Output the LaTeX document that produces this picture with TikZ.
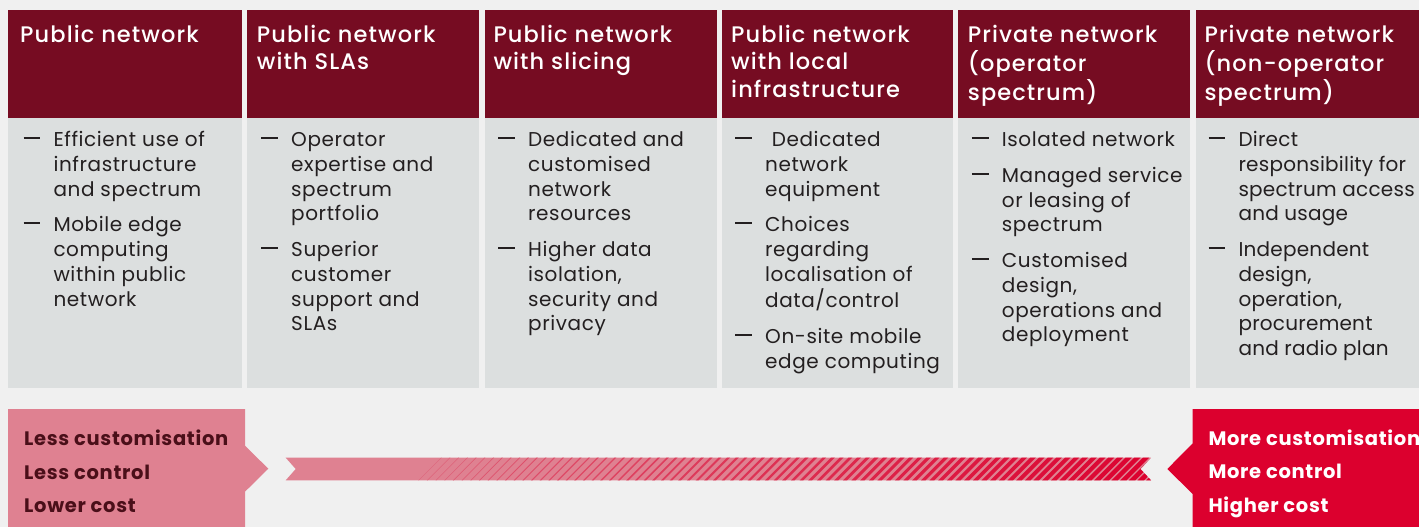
\documentclass[tikz,border=0pt]{standalone}
\usepackage{fontspec}
\setmainfont{Poppins}[LetterSpace=3.0]
\newfontfamily\hfont{Poppins Medium}[LetterSpace=4.9]
\newfontfamily\bofont{Poppins Bold}[LetterSpace=3.5]
\newfontfamily\narrowfont{Poppins}[LetterSpace=1.2]
\definecolor{bgc}{HTML}{F0F0F0}
\definecolor{hdrc}{HTML}{760C22}
\definecolor{bodyc}{HTML}{DCDFDF}
\definecolor{pinkc}{HTML}{DF8191}
\definecolor{redc}{HTML}{DC002E}
\definecolor{darkc}{HTML}{4A0F19}
\definecolor{txtc}{HTML}{231F20}
\newcommand\bdash{\rule[7.5pt]{16.7pt}{2pt}}
\begin{document}
\begin{tikzpicture}[x=1pt,y=-1pt,
  htxt/.style={anchor=north west,inner sep=0pt,text=white,font=\hfont\fontsize{22.5}{27.3}\selectfont},
  btxt/.style={anchor=north west,inner sep=0pt,text=txtc,font=\fontsize{20}{24.7}\selectfont},
  ftxt/.style={anchor=north west,inner sep=0pt,font=\bofont\fontsize{19.5}{33.5}\selectfont}]
\useasboundingbox (0,0) rectangle (1419,527);
\fill[bgc] (0,0) rectangle (1419,527);
% columns
\foreach \l/\r in {8/242,247.3/479.3,485/716.7,721.7/953.3,958.3/1190,1195.7/1425}{
  \fill[hdrc] (\l,10) rectangle (\r,117.5);
  \fill[bodyc] (\l,117.5) rectangle (\r,388);
}
% header texts
\node[htxt] (ht1) at (20,23.2) {\begin{tabular}{@{}l@{}}Public network\end{tabular}};
\node[htxt] (ht2) at (256.7,23.2) {\begin{tabular}{@{}l@{}}Public network\\with SLAs\end{tabular}};
\node[htxt] (ht3) at (493.3,23.2) {\begin{tabular}{@{}l@{}}Public network\\with slicing\end{tabular}};
\node[htxt] (ht4) at (731,23.2) {\begin{tabular}{@{}l@{}}Public network\\with local\\infrastructure\end{tabular}};
\node[htxt] (ht5) at (967.7,23.2) {\begin{tabular}{@{}l@{}}Private network\\(operator\\spectrum)\end{tabular}};
\node[htxt] (ht6) at (1204.3,23.2) {\begin{tabular}{@{}l@{}}Private network\\(non-operator\\spectrum)\end{tabular}};
% body texts
\node[btxt] (bt1) at (23.3,129.4) {\begin{tabular}{@{}p{30pt}@{}l@{}}\bdash & Efficient use of\\ & infrastructure\\ & and spectrum\\[11pt]
 \bdash & Mobile edge\\ & computing\\ & within public\\ & network\end{tabular}};
\node[btxt] (bt2) at (261,129.4) {\begin{tabular}{@{}p{30pt}@{}l@{}}\bdash & Operator\\ & expertise and\\ & spectrum\\ & portfolio\\[11pt]
 \bdash & Superior\\ & customer\\ & support and\\ & SLAs\end{tabular}};
\node[btxt] (bt3) at (498,129.4) {\begin{tabular}{@{}p{30pt}@{}l@{}}\bdash & Dedicated and\\ & customised\\ & network\\ & resources\\[11pt]
 \bdash & Higher data\\ & isolation,\\ & security and\\ & privacy\end{tabular}};
\node[btxt] (bt4) at (735,129.4) {\begin{tabular}{@{}p{30pt}@{}l@{}}\bdash & \hspace{6.7pt}Dedicated\\ & network\\ & equipment\\[11pt]
 \bdash & Choices\\ & regarding\\ & localisation of\\ & data/control\\[11pt]
 \bdash & On-site mobile\\ & edge computing\end{tabular}};
\node[btxt] (bt5) at (971.7,129.4) {\begin{tabular}{@{}p{30pt}@{}l@{}}\bdash & Isolated network\\[11pt]
 \bdash & Managed service\\ & or leasing of\\ & spectrum\\[11pt]
 \bdash & Customised\\ & design,\\ & operations and\\ & deployment\end{tabular}};
\node[btxt,font=\narrowfont\fontsize{20}{24.7}\selectfont] (bt6) at (1208.3,129.4) {\begin{tabular}{@{}p{30pt}@{}l@{}}\bdash & Direct\\ & responsibility for\\ & spectrum access\\ & and usage\\[11pt]
 \bdash & Independent\\ & design,\\ & operation,\\ & procurement\\ & and radio plan\end{tabular}};
% bottom left box
\fill[pinkc] (8,409) -- (245,409) -- (245,445.7) -- (268.3,468.7) -- (245,491.7) -- (245,530) -- (8,530) -- cycle;
% bottom right box
\fill[redc] (1192.7,409) -- (1425,409) -- (1425,530) -- (1192.7,530) -- (1192.7,494) -- (1167.3,469) -- (1192.7,443.3) -- cycle;
% band
\begin{scope}
\clip (285.7,457.7) -- (1151,457.7) -- (1140.5,469) -- (1151,480.3) -- (285.7,480.3) -- (295.7,469) -- cycle;
\fill[pinkc] (280,450) rectangle (1160,490);
\foreach \k in {0,...,84}{
  \pgfmathsetmacro\p{30+70*\k/84}
  \pgfmathsetmacro\w{0.3+4.3*\k/84}
  \pgfmathsetmacro\xo{430+8.7*\k}
  \draw[draw=redc!\p!pinkc,line width=\w pt] (\xo-14,483) -- (\xo+14,455);
}
\end{scope}
% bottom texts
\node[ftxt,text=darkc] (lt) at (24,422.25) {\begin{tabular}{@{}l@{}}Less customisation\\Less control\\Lower cost\end{tabular}};
\node[ftxt,text=white] (rt) at (1208.3,421.55) {\begin{tabular}{@{}l@{}}More customisation\\More control\\Higher cost\end{tabular}};
\end{tikzpicture}
\end{document}
